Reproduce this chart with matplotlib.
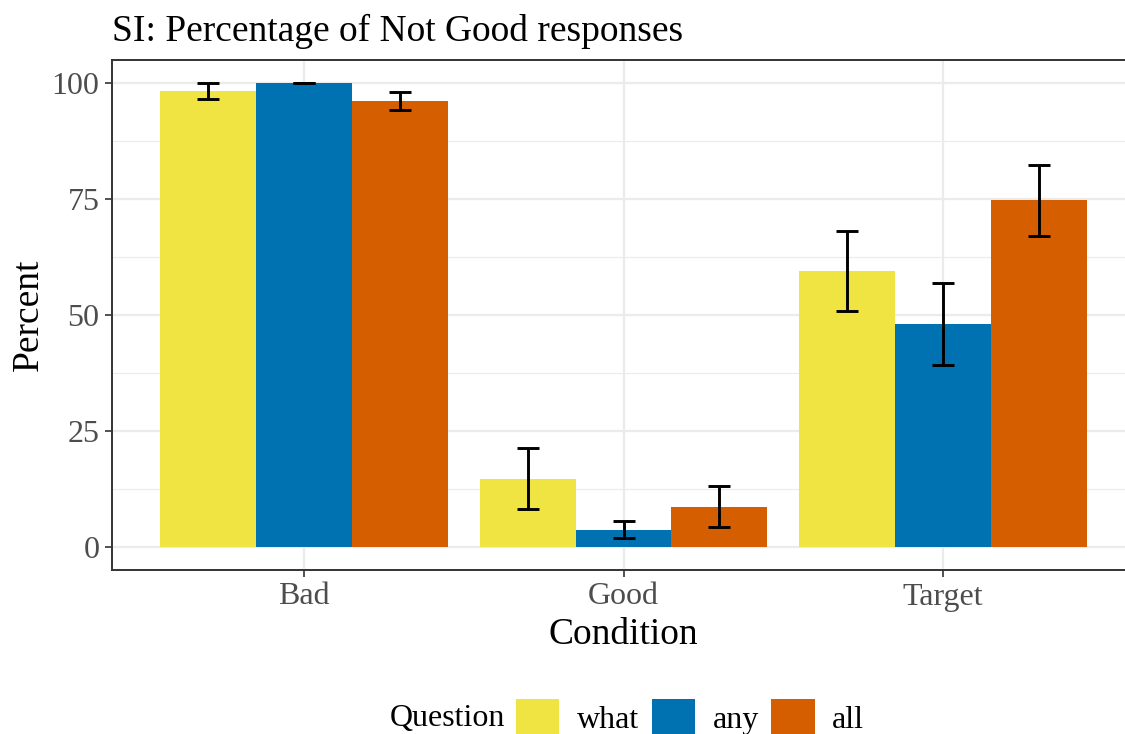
import numpy as np
import matplotlib
matplotlib.use("Agg")
import matplotlib.pyplot as plt
from matplotlib.patches import Patch

plt.rcParams['font.family'] = ['Liberation Serif', 'DejaVu Serif']

conditions = ['Bad', 'Good', 'Target']
questions = ['what', 'any', 'all']
colors = ['#F0E442', '#0072B2', '#D55E00']

# percent of Not Good responses, per question, per condition
pct = {
    'what': [98.3, 14.7, 59.5],
    'any': [100.0, 3.7, 48.1],
    'all': [96.1, 8.6, 74.8],
}
lo = {
    'what': [96.6, 8.1, 50.8],
    'any': [100.0, 1.9, 39.2],
    'all': [94.3, 4.2, 67.1],
}
hi = {
    'what': [100.0, 21.3, 68.2],
    'any': [100.0, 5.5, 57.0],
    'all': [98.0, 13.1, 82.3],
}

fig = plt.figure(figsize=(11.25, 7.34), dpi=100)
W, H = 1125, 734
# panel from x=112..1135 px, y=60..570 px
ax = fig.add_axes([112 / W, 1 - 570 / H, (1135 - 112) / W, (570 - 60) / H])

x = np.arange(1, len(conditions) + 1)
bw = 0.3
for i, q in enumerate(questions):
    xs = x + (i - 1) * bw
    ax.bar(xs, pct[q], width=bw, color=colors[i], zorder=2)
    v = np.array(pct[q])
    yerr = [v - np.array(lo[q]), np.array(hi[q]) - v]
    ax.errorbar(xs, v, yerr=yerr, fmt='none', ecolor='black',
                elinewidth=2.1, capsize=7.8, capthick=2.1, zorder=3)

ax.set_xlim(0.4, 3.6)
ax.set_ylim(-5, 105)
ax.set_xticks(x)
ax.set_xticklabels(conditions)
ax.set_yticks([0, 25, 50, 75, 100])
ax.set_yticks([12.5, 37.5, 62.5, 87.5], minor=True)
ax.tick_params(axis='x', which='minor', bottom=False)
ax.tick_params(axis='y', which='minor', left=False)
ax.tick_params(which='major', labelsize=23, labelcolor='#4D4D4D',
               color='#333333', length=5, width=1.2, pad=4)
ax.grid(which='major', color='#EBEBEB', linewidth=1.6, zorder=0)
ax.grid(which='minor', axis='y', color='#EBEBEB', linewidth=0.8, zorder=0)
ax.set_axisbelow(True)
for s in ax.spines.values():
    s.set_color('#333333')
    s.set_linewidth(1.4)

ax.set_xlabel('Condition', fontsize=27, labelpad=4)
ax.set_ylabel('Percent', fontsize=27, labelpad=4)
ax.set_title('SI: Percentage of Not Good responses', fontsize=27, loc='left', pad=14)

handles = [Patch(facecolor=c, edgecolor='none') for c in colors]
fig.text(390 / W, 1 - 726 / H, 'Question', fontsize=23, va='baseline', ha='left')
fig.legend(handles, questions, loc='center left', bbox_to_anchor=(500 / W, 1 - 717 / H),
           ncol=3, frameon=False, fontsize=23, handlelength=1.35, handleheight=1.35,
           handletextpad=0.55, columnspacing=0.4, borderpad=0)

fig.savefig('out.png', dpi=100)
